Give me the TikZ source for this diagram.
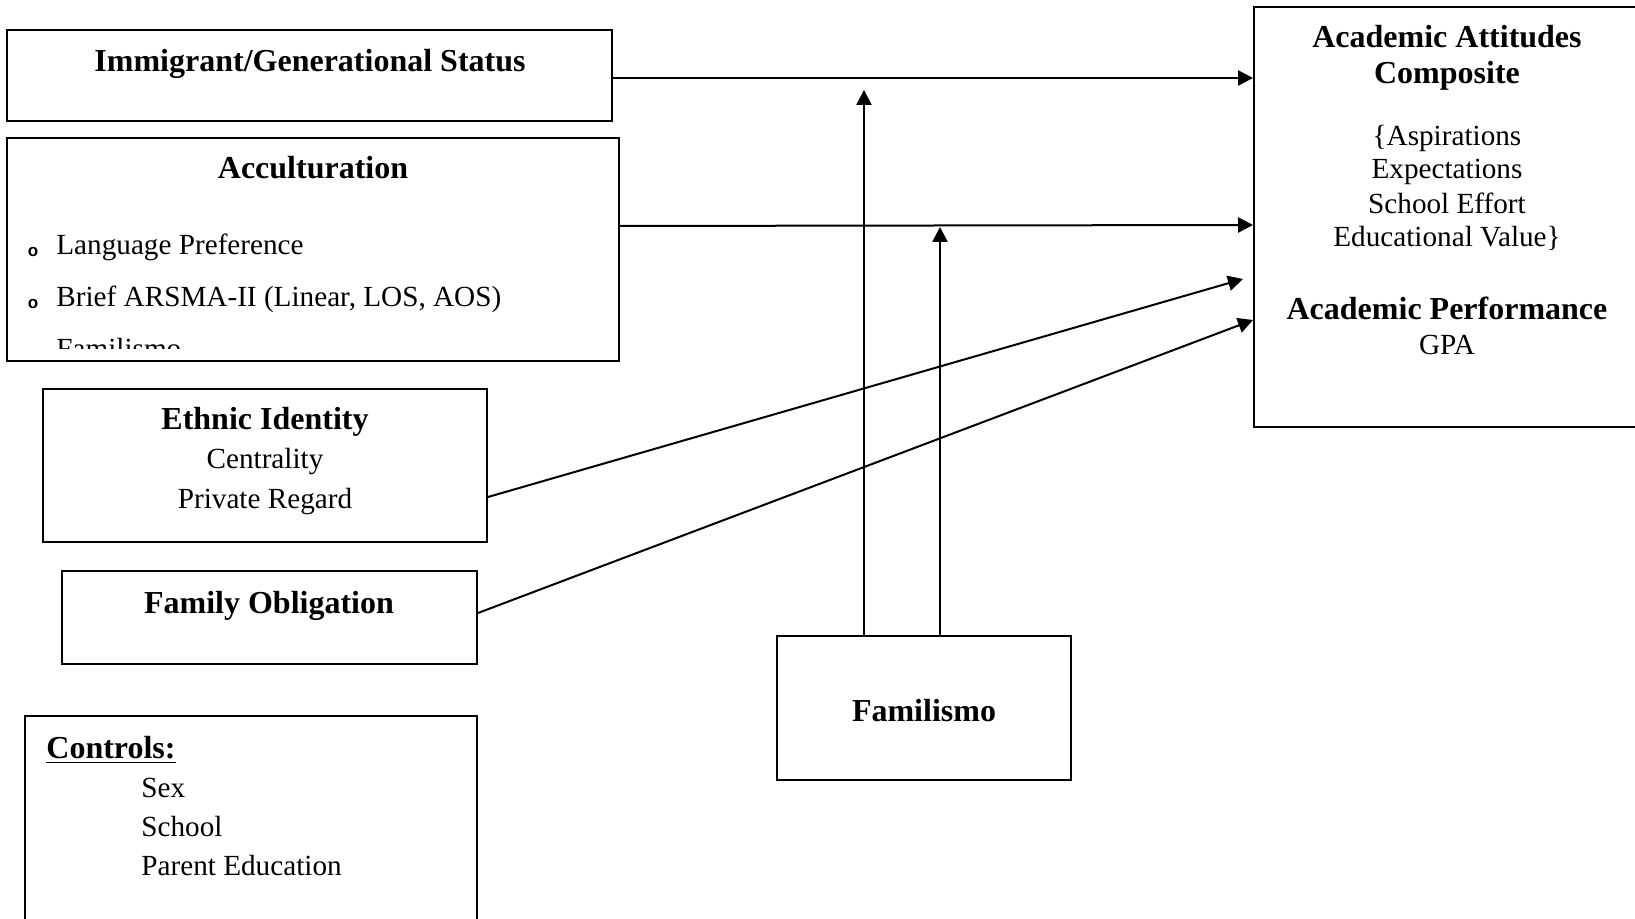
\documentclass[tikz,border=0pt]{standalone}
\usepackage{fontspec}
\setmainfont{Liberation Serif}
\newfontfamily\bulf{Liberation Sans}
\usetikzlibrary{arrows.meta,fit}
\newcommand{\fsz}{\fontsize{14.6}{16.7}\selectfont}
\newcommand{\bfsz}{\fontsize{16}{18}\selectfont\bfseries}
\begin{document}
\begin{tikzpicture}[x=0.5pt,y=-0.5pt,
  box/.style={draw,line width=1pt,inner sep=0pt,rectangle},
  arr/.style={line width=1pt,-{Triangle[length=7.5pt,width=7.6pt]}},
  txt/.style={inner sep=0pt,font=\fsz},
  btxt/.style={inner sep=0pt,font=\bfsz},
  ltxt/.style={inner sep=0pt,font=\fsz,anchor=west},
  bul/.style={inner sep=0pt,font=\bulf\bfseries\fontsize{8.5}{8.5}\selectfont}]
\useasboundingbox (0,0) rectangle (1635,919);
\clip (0,0) rectangle (1635,919);
\fill[white] (0,0) rectangle (1635,919);
% boxes
\node[box,fit={(7,30) (612,121)}] (imm) {};
\node[box,fit={(7,138) (619,361)}] (acc) {};
\node[box,fit={(43,389) (487,542)}] (eth) {};
\node[box,fit={(62,571) (477,664)}] (fob) {};
\node[box,fit={(25,716) (477,940)}] (ctl) {};
\node[box,fit={(777,636) (1071,780)}] (fam) {};
\node[box,fit={(1254,7) (1650,427)}] (acad) {};
% texts
\node[btxt] (t1) at (310,64) {Immigrant/Generational Status};
\node[btxt] (t2) at (313,168) {Acculturation};
\node[bul] (b1) at (33,252) {o};
\node[ltxt] (t3) at (56,247) {Language Preference};
\node[bul] (b2) at (33,304) {o};
\node[ltxt] (t4) at (56,299) {Brief ARSMA-II (Linear, LOS, AOS)};
\begin{scope}
\clip (10,300) rectangle (600,349);
\node[ltxt] (t5) at (56,349) {Familismo};
\end{scope}
\node[btxt] (t6) at (1447,37) {Academic Attitudes};
\node[btxt] (t7) at (1447,76) {Composite};
\node[txt] (t8) at (1447,138) {\{Aspirations};
\node[txt] (t9) at (1447,172) {Expectations};
\node[txt] (t10) at (1447,203) {School Effort};
\node[txt] (t11) at (1447,238) {Educational Value\}};
\node[btxt] (t12) at (1447,308) {Academic Performance};
\node[txt] (t13) at (1447,345) {GPA};
\node[btxt] (t14) at (265,422) {Ethnic Identity};
\node[txt] (t15) at (265,462) {Centrality};
\node[txt] (t16) at (265,502) {Private Regard};
\node[btxt] (t17) at (269,606) {Family Obligation};
\node[ltxt,font=\bfsz] (t18) at (46,750) {\underline{Controls:}};
\node[ltxt] (t19) at (141,788) {Sex};
\node[ltxt] (t20) at (141,827) {School};
\node[ltxt] (t21) at (141,866) {Parent Education};
\node[btxt] (t22) at (924,711) {Familismo};
% connectors
\coordinate (v1) at (864,90);
\coordinate (v2) at (940,227);
\coordinate (e1) at (1243,279);
\draw[arr] (imm.east |- 0,78) -- (acad.west |- 0,78);
\draw[arr] (acc.east |- 0,226) -- (acad.west |- 0,225);
\draw[arr] (fam.north -| v1) -- (v1);
\draw[arr] (fam.north -| v2) -- (v2);
\draw[arr] (eth.east |- 0,497) -- (e1);
\draw[arr] (fob.east |- 0,613) -- (acad.west |- 0,320);
\end{tikzpicture}
\end{document}
